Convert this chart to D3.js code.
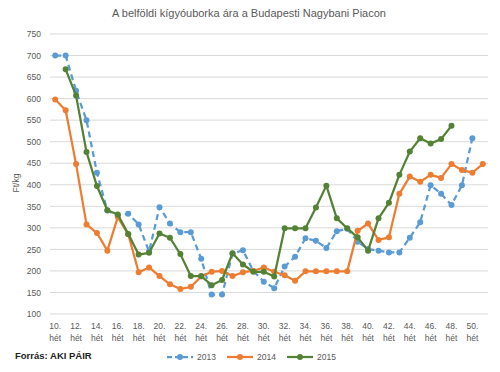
<!DOCTYPE html>
<html><head><meta charset="utf-8">
<script src="https://cdn.jsdelivr.net/npm/d3@7"></script>
<style>body{margin:0;background:#fff;} text{font-family:"Liberation Sans",Arial,sans-serif;}</style>
</head><body><svg id="c" width="500" height="372"></svg>
<script>
const weeks = d3.range(10, 52);
const s2013 = [700,700,618,550,428,340,328,333,308,245,348,310,290,290,228,145,145,240,248,200,175,160,210,233,276,270,253,292,298,268,251,247,243,243,277,313,399,379,353,399,508,null];
const s2014 = [598,573,448,308,288,247,325,285,197,208,188,169,158,163,187,198,200,188,197,200,208,198,190,177,199,199,199,199,199,293,310,272,278,379,419,407,423,416,448,434,428,448];
const s2015 = [null,668,607,476,397,341,331,286,238,242,287,277,239,188,188,167,179,241,215,198,198,187,299,299,299,347,398,322,299,278,247,322,358,423,477,508,496,506,537,null,null,null];
const seriesNames = ["2013","2014","2015"];
const colors = ["#5B9BD5","#ED7D31","#548235"];
const yTicks = d3.range(100, 751, 50);
const title = "A belföldi kígyóuborka ára a Budapesti Nagybani Piacon";

const svg = d3.select("#c");
const x = d3.scaleBand().domain(weeks).range([50, 488]);
const cx = w => x(w) + x.bandwidth()/2;
const y = d3.scaleLinear().domain([100, 750]).range([314, 34]);

svg.append("text").attr("x", 249).attr("y", 17).attr("text-anchor","middle")
  .attr("font-size", 11).attr("fill", "#595959").text(title);

// grid
svg.append("g").selectAll("line").data(yTicks).join("line")
  .attr("x1", 50).attr("x2", 488).attr("y1", d=>y(d)).attr("y2", d=>y(d))
  .attr("stroke", "#d9d9d9").attr("stroke-width", 1);

const yAxis = d3.axisLeft(y).tickValues(yTicks).tickSize(0).tickPadding(9);
const ga = svg.append("g").attr("transform","translate(50,0)").call(yAxis);
ga.select(".domain").remove();
ga.selectAll("text").attr("font-size", 8.5).attr("fill","#595959").attr("font-family","Liberation Sans, Arial, sans-serif");

svg.append("text").attr("transform","translate(19,183) rotate(-90)").attr("text-anchor","middle")
  .attr("font-size", 8.5).attr("fill","#595959").text("Ft/kg");

// x labels
const xl = svg.append("g").selectAll("text").data(weeks.filter(w => w % 2 === 0)).join("text")
  .attr("x", d => cx(d)).attr("y", 329).attr("text-anchor","middle")
  .attr("font-size", 8.5).attr("fill","#595959");
xl.append("tspan").attr("x", d=>cx(d)).text(d => d + ".");
xl.append("tspan").attr("x", d=>cx(d)).attr("dy", 12).text("hét");

const data = [s2013, s2014, s2015];
const line = d3.line().defined(d => d.v !== null).x(d => cx(d.w)).y(d => y(d.v));
data.forEach((s, i) => {
  const pts = weeks.map((w, j) => ({w, v: s[j]}));
  svg.append("path").datum(pts).attr("d", line).attr("fill","none")
    .attr("stroke", colors[i]).attr("stroke-width", 2.25)
    .attr("stroke-dasharray", i === 0 ? "6,4" : null).attr("stroke-linejoin","round");
  svg.append("g").selectAll("circle").data(pts.filter(d => d.v !== null)).join("circle")
    .attr("cx", d => cx(d.w)).attr("cy", d => y(d.v)).attr("r", 3).attr("fill", colors[i]);
});

svg.append("text").attr("x", 15).attr("y", 359).attr("font-size", 9.5).attr("font-weight","bold")
  .attr("fill","#222").text("Forrás: AKI PÁIR");

const legX = [167, 227, 287];
seriesNames.forEach((n, i) => {
  const g = svg.append("g");
  g.append("line").attr("x1", legX[i]).attr("x2", legX[i]+26).attr("y1", 357).attr("y2", 357)
    .attr("stroke", colors[i]).attr("stroke-width", 2.25).attr("stroke-dasharray", i===0 ? "5,3" : null);
  g.append("circle").attr("cx", legX[i]+13).attr("cy", 357).attr("r", 3).attr("fill", colors[i]);
  g.append("text").attr("x", legX[i]+30).attr("y", 360).attr("font-size", 8.5).attr("fill","#595959").text(n);
});
</script></body></html>
